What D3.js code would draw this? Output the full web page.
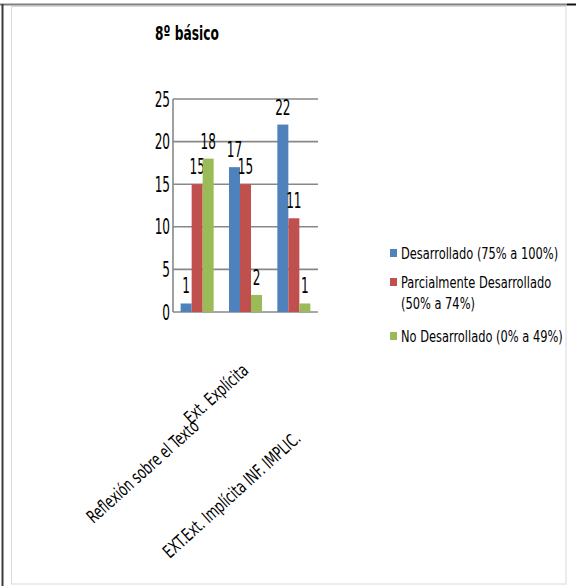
<!DOCTYPE html>
<html>
<head>
<meta charset="utf-8">
<script src="https://cdn.jsdelivr.net/npm/d3@7"></script>
<style>
  html, body { margin: 0; padding: 0; background: #fff; }
  svg { display: block; }
  text { font-family: "DejaVu Sans Condensed", "DejaVu Sans", sans-serif; fill: #000; }
</style>
</head>
<body>
<svg id="chart" width="576" height="586"></svg>
<script>
// Chart data
const categories = ["Reflexión sobre el Texto", "Ext. Explícita", "EXT.Ext. Implícita INF. IMPLIC."];
const seriesNames = ["Desarrollado (75% a 100%)", "Parcialmente Desarrollado (50% a 74%)", "No Desarrollado (0% a 49%)"];
const legendLines = [["Desarrollado (75% a 100%)"], ["Parcialmente Desarrollado", "(50% a 74%)"], ["No Desarrollado (0% a 49%)"]];
const desarrollado = [1, 17, 22];
const parcial = [15, 15, 11];
const noDesarrollado = [18, 2, 1];
const yTicks = [0, 5, 10, 15, 20, 25];
const title = "8º básico";

const colors = ["#4F81BD", "#C0504D", "#9BBB59"];
const series = [desarrollado, parcial, noDesarrollado];

const svg = d3.select("#chart");

// Text helper: condensed text, squeezed along its own baseline
function label(g, x, y, str, opts = {}) {
  const rot = opts.rotate || 0;
  const sx = opts.sx || 0.8;
  return g.append("text")
    .attr("transform", `translate(${x},${y})` + (rot ? ` rotate(${rot})` : "") + ` scale(${sx},1)`)
    .attr("text-anchor", opts.anchor || "start")
    .attr("font-size", opts.size || 16)
    .attr("font-weight", opts.weight || "normal")
    .text(str);
}

// Outer frame
svg.append("line").attr("x1", 0).attr("x2", 567).attr("y1", 4.5).attr("y2", 4.5)
  .attr("stroke", "#7f7f7f").attr("stroke-width", 2);
svg.append("line").attr("x1", 567).attr("x2", 576).attr("y1", 4.5).attr("y2", 4.5)
  .attr("stroke", "#111").attr("stroke-width", 2);
svg.append("line").attr("x1", 2.5).attr("x2", 2.5).attr("y1", 4).attr("y2", 586)
  .attr("stroke", "#3a3a3a").attr("stroke-width", 2);
svg.append("rect").attr("x", 11.5).attr("y", 6.5).attr("width", 554.5).attr("height", 577.5)
  .attr("fill", "none").attr("stroke", "#d9d9d9").attr("stroke-width", 1);

// Scales
const x0 = d3.scaleBand().domain(categories).range([173, 318]).paddingInner(0.317).paddingOuter(0.158);
const x1 = d3.scaleBand().domain(d3.range(series.length)).range([0, x0.bandwidth()]);
const y = d3.scaleLinear().domain([0, 25]).range([312, 99]);

// Gridlines and value axis
const grid = svg.append("g");
grid.selectAll("line").data(yTicks).join("line")
  .attr("x1", 173).attr("x2", 318)
  .attr("y1", d => y(d)).attr("y2", d => y(d))
  .attr("stroke", "#888").attr("stroke-width", 1.6);
svg.append("line").attr("x1", 173).attr("x2", 173).attr("y1", y(25)).attr("y2", y(0))
  .attr("stroke", "#888").attr("stroke-width", 1.6);

// Y tick labels
const yl = svg.append("g");
yTicks.forEach(t => label(yl, 170, y(t) + 7.5, String(t), { anchor: "end", size: 21, sx: 0.64 }));

// Bars and value labels
const bars = svg.append("g");
series.forEach((vals, si) => {
  vals.forEach((v, ci) => {
    const bx = x0(categories[ci]) + x1(si);
    bars.append("rect")
      .attr("x", bx).attr("y", y(v))
      .attr("width", x1.bandwidth()).attr("height", y(0) - y(v))
      .attr("fill", colors[si]);
    label(bars, bx + x1.bandwidth() / 2, y(v) - 10, String(v), { anchor: "middle", size: 21, sx: 0.64 });
  });
});

// Category labels (rotated, end-anchored below each group)
const catShift = [[3, 116], [4, 60], [8, 128]];
const xl = svg.append("g");
categories.forEach((c, i) => {
  const cx = x0(c) + x0.bandwidth() / 2;
  label(xl, cx + catShift[i][0], y(0) + catShift[i][1], c, { anchor: "end", size: 18, sx: 0.75, rotate: -42 });
});

// Title
label(svg, 155, 40, title, { size: 20, weight: "bold", sx: 0.68 });

// Legend
const lg = svg.append("g");
const legendTop = [259, 288, 342];
legendLines.forEach((lines, i) => {
  lg.append("rect").attr("x", 390).attr("y", legendTop[i] - 10).attr("width", 7).attr("height", 8).attr("fill", colors[i]);
  lines.forEach((ln, j) => label(lg, 401, legendTop[i] + j * 21, ln, { size: 16.5, sx: 0.77 }));
});
</script>
</body>
</html>
